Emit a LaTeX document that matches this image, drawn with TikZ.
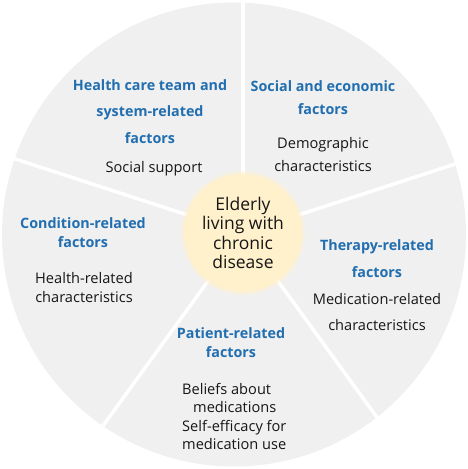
\documentclass[tikz,border=0pt]{standalone}
\usepackage{fontspec}
\setmainfont{Open Sans}
\usepackage{tikz}
\usetikzlibrary{positioning}
\definecolor{diskGray}{RGB}{240,240,240}
\definecolor{hubYellow}{RGB}{255,241,203}
\definecolor{headBlue}{RGB}{33,110,176}
\definecolor{bodyBlack}{RGB}{22,22,22}

\begin{document}
\begin{tikzpicture}[
  x=1pt, y=1pt,
  head/.style={font=\bfseries\fontsize{14.3}{#1}\selectfont, text=headBlue,
               align=center, inner sep=0pt},
  head/.default=19,
  body/.style={font=\fontsize{14.6}{#1}\selectfont, text=bodyBlack,
               align=center, inner sep=0pt},
  body/.default=19,
  sep/.style={draw=white, line width=3.5pt},
]
\useasboundingbox (0,0) rectangle (468,469);

% Disk
\node[circle, fill=diskGray, minimum size=464pt, inner sep=0pt] (disk) at (234,234.5) {};
\coordinate (mid) at (243,236);

% Separators
\begin{scope}
  \clip (disk.center) circle (232);
  \foreach \a in {90,18,-54,-126,162}
    \draw[sep] (mid) -- ++(\a:260);
\end{scope}

% Hub
\fill[hubYellow, opacity=.35] (mid) circle (62);
\fill[hubYellow, opacity=.6] (mid) circle (60);
\node[circle, fill=hubYellow, minimum size=116pt, inner sep=0pt,
      font=\fontsize{17.5}{19.5}\selectfont, text=bodyBlack, align=center]
  (hub) at (mid) {Elderly\\living with\\chronic\\disease};

% Sectors
\node[head=26.5] (sysHead) at (150,357.5) {Health care team and\\system-related\\factors};
\node[body] (sysText) at (154,300) {Social support};

\node[head=23] (socHead) at (323,371.5) {Social and economic\\factors};
\node[body=23] (socText) at (323,314.5) {Demographic\\characteristics};

\node[head] (conHead) at (83,236.5) {Condition-related\\factors};
\node[body] (conText) at (84,181.5) {Health-related\\characteristics};

\node[head=27] (thrHead) at (377,210.5) {Therapy-related\\factors};
\node[body=26] (thrText) at (377,157) {Medication-related\\characteristics};

\node[head] (patHead) at (231,126.5) {Patient-related\\factors};
\node[body=18.3, align=left, anchor=west] (patText) at (182,52.5)
  {Beliefs about\\\hspace*{11pt}medications\\Self-efficacy for\\medication use};

\end{tikzpicture}
\end{document}
